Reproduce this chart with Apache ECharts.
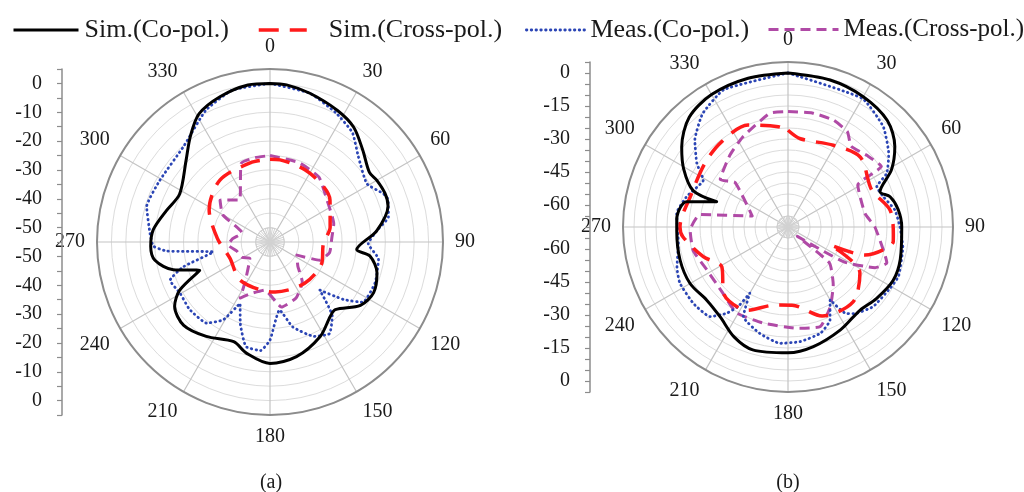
<!DOCTYPE html>
<html>
<head>
<meta charset="utf-8">
<script src="https://cdn.jsdelivr.net/npm/echarts@6/dist/echarts.min.js"></script>
<style>html,body{margin:0;padding:0;background:#fff;}#c{width:1024px;height:492px;}</style>
</head>
<body>
<div id="c"></div>
<script>
// ---------- data: [angle (deg), level (dB)], in drawing order ----------
// (a)
const simCoA = [[0,0],[6,-0.2],[15,-1.6],[27,-3.7],[36,-5.7],[45,-9.6],[55,-12.9],[60,-12.2],[67,-11.7],[73,-12.2],[84,-17.8],[95,-24.8],[98,-20],[106,-16.4],[116,-15],[125,-16.7],[136,-22.4],[141,-21.8],[152,-17.9],[167,-14.2],[180,-12.9],[192,-15.6],[200,-18.2],[214,-15.5],[226,-13.4],[236,-15.1],[242,-19.6],[248,-28.7],[254,-20.1],[261,-14.6],[268,-13.6],[276,-14.3],[287,-17.5],[298,-19.5],[314,-14.5],[323,-9.1],[331,-4.2],[341,-1.7],[352,0],[360,0]];
const simXA = [[0,-26.3],[7,-26.3],[30,-27.4],[55,-29.6],[76,-33.5],[92,-36.5],[112,-35.6],[140,-36.3],[174,-37.6],[182,-37.8],[218,-38.2],[248,-40],[274,-36.7],[298,-31.1],[321,-27.4],[346,-26.7],[360,-26.3]];
const measCoA = [[0,0],[15,-1.6],[27,-4.7],[37,-7.5],[46,-12.4],[59,-15.8],[67,-12.2],[70,-11.5],[78,-13],[84,-17.8],[91,-20.9],[99,-16.9],[111,-15.9],[123,-16.6],[128,-22.6],[134,-31],[140,-21.4],[147,-17.1],[155,-18.9],[165,-24.5],[172,-31.2],[180,-21],[185,-17.2],[193,-17.8],[200,-24.9],[206,-31.3],[211,-23.5],[218,-19.3],[230,-18.6],[240,-19.1],[249,-17.9],[254,-23.7],[260,-35],[265,-19],[268,-14.5],[274,-13.3],[286,-10.5],[299,-11.2],[318,-10.3],[334,-4.2],[346,-0.75],[360,0]];
const measXA = [[0,-25],[20,-25.7],[37,-26.8],[54,-30.5],[74,-32],[86,-33.5],[100,-34],[110,-36.6],[116,-44.6],[131,-42.2],[141,-37.2],[155,-33.6],[170,-32.1],[186,-38.2],[200,-36],[208,-33],[212,-38.7],[231,-46],[241,-44],[255,-43],[266,-40.4],[275,-42],[288,-44.8],[300,-36],[310,-32.4],[324,-37],[340,-25.9],[350,-25.3],[360,-25]];
// (b)
const simCoB = [[0,0],[16,-0.5],[30,-1.6],[43,-3.8],[53,-9.2],[61,-16.2],[69,-25.2],[73.5,-21.6],[81,-19.3],[90,-18.3],[106,-16.9],[117,-16.4],[129,-18.3],[139,-20],[153,-17.5],[168,-14.4],[180,-12.8],[196,-11.9],[206,-14.3],[217,-18.8],[228,-20.3],[240,-18.6],[253,-18.7],[268,-19.4],[274,-19.3],[284,-22.5],[289.5,-35.6],[291,-23.8],[299,-15.8],[307,-9.5],[318,-2.9],[330,-0.5],[345,0],[360,0]];
const simXB = [[0,-26],[8,-29.5],[29,-27.5],[46,-24.3],[66,-28.4],[80.5,-23],[94,-22],[98,-21.7],[110,-32.8],[113,-49],[122.6,-31.2],[139,-24.9],[159,-26.7],[177,-34.4],[189.5,-34],[206,-27.9],[224,-27.9],[239,-34.9],[250.7,-29.2],[264.7,-22],[270,-20.9],[289,-23.6],[307.5,-22.4],[322,-20.9],[338.6,-20.2],[354.5,-24.2],[360,-26]];
const measCoB = [[0,0],[30,-2.5],[43.5,-7.1],[54,-13.4],[61.5,-18.9],[65.6,-25.7],[72.4,-24.5],[81,-20.8],[90,-19.1],[100,-17],[114,-15],[121,-15.9],[133,-17],[141.5,-19.9],[146,-22.5],[150,-31.7],[155.7,-23.6],[163,-19.5],[174,-17.6],[184,-17],[195,-20],[206.5,-24.5],[210,-35.3],[212,-27.7],[215.4,-21.9],[221,-16],[231,-14.7],[242.5,-14.6],[250,-16.3],[261.5,-19.6],[277,-19],[287,-22],[299,-26],[305,-19.4],[313,-12.1],[323,-5.5],[335,-1.1],[360,0]];
const measXB = [[0,-17.5],[12,-17],[23,-17.2],[32,-19],[38,-23.4],[48,-21.5],[57,-19.4],[59,-33],[80,-34.5],[90,-30.5],[110,-22.2],[115,-26.3],[122,-40],[135,-64],[131,-45],[142,-36.6],[152,-29],[162,-22.4],[175,-23.8],[195,-24.9],[211,-24.5],[226,-28],[242,-28.3],[256,-25.6],[268,-25.5],[278,-29.5],[287,-53],[310,-38.6],[305,-32.4],[321,-28],[333,-24.3],[351,-17.6],[360,-17.5]];

const names = ['Sim.(Co-pol.)', 'Sim.(Cross-pol.)', 'Meas.(Co-pol.)', 'Meas.(Cross-pol.)'];
const captions = ['(a)', '(b)'];
// radial ranges (dB) of the two plots and the left scale label step
const rangeA = {min: -55, max: 5, step: 10};
const rangeB = {min: -70, max: 5, step: 15};

// ---------- styles ----------
const FONT = 'Liberation Serif';
const TXT = '#1a1a1a';
const styles = [
  {color: '#000000', width: 3, type: 'solid', cap: 'butt', smooth: 0.3},
  {color: '#ff1a1a', width: 3.5, type: [20, 11], cap: 'butt', smooth: 0.3},
  {color: '#2b45b5', width: 2.8, type: [0.5, 4.3], cap: 'round', smooth: 0.15},
  {color: '#b04aa6', width: 3, type: [10, 6], cap: 'butt', smooth: 0.15}
];

function toPolar(arr) { return arr.map(p => [p[1], p[0]]); }

const chart = echarts.init(document.getElementById('c'), null, {renderer: 'canvas'});

function polarAxes(idx, range) {
  const angle = {
    polarIndex: idx, type: 'value', min: 0, max: 360, interval: 30, startAngle: 90, clockwise: true,
    axisLine: {show: true, lineStyle: {color: '#8c8c8c', width: 2}},
    axisTick: {show: false},
    splitLine: {show: true, lineStyle: {color: '#c4c4c4', width: 1.2}},
    axisLabel: {show: true, margin: 12, fontFamily: FONT, fontSize: 20, color: TXT,
      formatter: v => (v >= 360 ? '' : String(v))}
  };
  const radius = {
    polarIndex: idx, type: 'value', min: range.min, max: range.max, interval: 5,
    axisLine: {show: false}, axisTick: {show: false}, axisLabel: {show: false},
    splitLine: {show: true, lineStyle: {color: '#dcdcdc', width: 1}}
  };
  return {angle, radius};
}
function innerAxes(idx) {
  return {
    angle: {polarIndex: idx, type: 'value', min: 0, max: 360, interval: 10, startAngle: 90,
      axisLine: {show: true, lineStyle: {color: '#cfcfcf', width: 1}}, axisTick: {show: false},
      axisLabel: {show: false}, splitLine: {show: true, lineStyle: {color: '#d2d2d2', width: 1}}},
    radius: {polarIndex: idx, type: 'value', min: 0, max: 1, axisLine: {show: false},
      axisTick: {show: false}, axisLabel: {show: false}, splitLine: {show: false}}
  };
}

const pA = polarAxes(0, rangeA), pB = polarAxes(1, rangeB);
const iA = innerAxes(2), iB = innerAxes(3);

function sideAxis(gridIdx, range) {
  const span = range.max - range.min;
  return {
    gridIndex: gridIdx, type: 'value', min: -span, max: span, interval: 5, position: 'left',
    axisLine: {show: true, lineStyle: {color: '#8c8c8c', width: 1.5}},
    axisTick: {show: true, length: 5, lineStyle: {color: '#8c8c8c', width: 1.2}},
    splitLine: {show: false},
    axisLabel: {show: true, margin: 20, fontFamily: FONT, fontSize: 20, color: TXT,
      formatter: v => {
        const db = Math.abs(v) + range.min;
        if (db > 0.01 || Math.abs(v) < 0.01) return '';
        return (Math.abs(db % range.step) < 0.01) ? String(Math.round(db)) : '';
      }}
  };
}

const series = [];
const setsA = [simCoA, simXA, measCoA, measXA];
const setsB = [simCoB, simXB, measCoB, measXB];
[setsA, setsB].forEach((sets, pi) => {
  sets.forEach((d, k) => {
    const s = styles[k];
    series.push({
      name: names[k], type: 'line', coordinateSystem: 'polar', polarIndex: pi,
      data: toPolar(d), symbol: 'none', smooth: s.smooth, z: 10 - k,
      lineStyle: {color: s.color, width: s.width, type: s.type, cap: s.cap, join: 'round'},
      itemStyle: {color: s.color}, animation: false
    });
  });
});

const legendPos = [
  {left: 12, w: 65, gap: 1, fs: 26},
  {left: 257, w: 48, gap: 17, fs: 26},
  {left: 525, w: 59, gap: 0, fs: 26},
  {left: 767, w: 70, gap: 0, fs: 25}
];
const legends = names.map((n, k) => ({
  data: [n], left: legendPos[k].left, top: 17, padding: 0, itemWidth: legendPos[k].w, itemHeight: 14,
  selectedMode: false,
  lineStyle: {width: styles[k].width},
  itemStyle: {color: 'rgba(0,0,0,0)', borderColor: 'rgba(0,0,0,0)', borderWidth: 0, opacity: 0},
  textStyle: {fontFamily: FONT, fontSize: legendPos[k].fs, color: TXT, padding: [0, 0, 0, legendPos[k].gap]}
}));

const option = {
  backgroundColor: '#ffffff',
  animation: false,
  title: captions.map((c, i) => ({
    text: c, left: i === 0 ? 266 : 783, top: 468, textAlign: 'center',
    textStyle: {fontFamily: FONT, fontSize: 20, fontWeight: 'normal', color: TXT}
  })),
  legend: legends,
  polar: [
    {center: [270, 242], radius: 173},
    {center: [788, 227], radius: 165},
    {center: [270, 242], radius: 14.4},
    {center: [788, 227], radius: 11}
  ],
  angleAxis: [pA.angle, pB.angle, iA.angle, iB.angle],
  radiusAxis: [pA.radius, pB.radius, iA.radius, iB.radius],
  grid: [
    {left: 62, top: 69, width: 2, height: 346},
    {left: 590, top: 62, width: 2, height: 330}
  ],
  xAxis: [{gridIndex: 0, type: 'value', show: false}, {gridIndex: 1, type: 'value', show: false}],
  yAxis: [sideAxis(0, rangeA), sideAxis(1, rangeB)],
  series: series
};
chart.setOption(option);
</script>
</body>
</html>
